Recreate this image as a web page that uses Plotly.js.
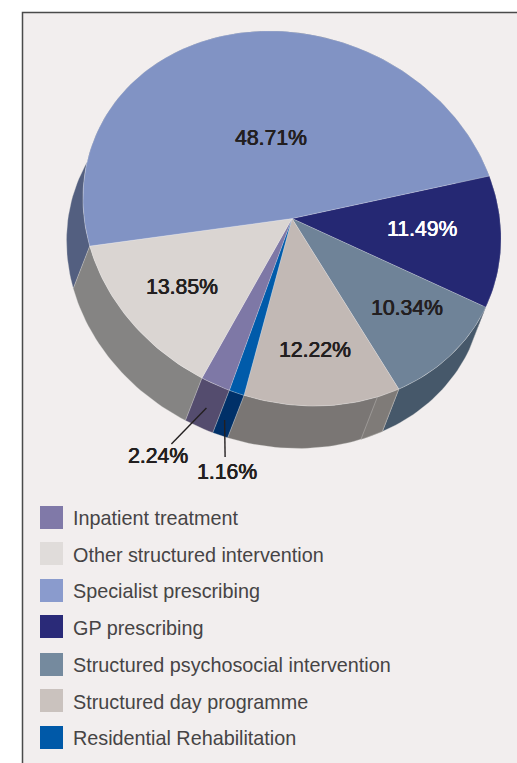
<!DOCTYPE html>
<html><head><meta charset="utf-8">
<script src="https://cdn.plot.ly/plotly-3.0.1.min.js"></script>
<style>html,body{margin:0;padding:0;background:#fff;overflow:hidden}#c{width:517px;height:763px}</style>
</head><body><div id="c"></div>
<script>
// ---- data, in clockwise drawing order, starting at the GP slice ----
const sliceNames = ['GP prescribing','Structured psychosocial intervention','Structured day programme','Residential Rehabilitation','Inpatient treatment','Other structured intervention','Specialist prescribing'];
const sliceValues = [11.49,10.34,12.22,1.16,2.24,13.85,48.71];
const sliceLabels = ['11.49%','10.34%','12.22%','1.16%','2.24%','13.85%','48.71%'];
const topColors = ['#252873','#6F8398','#C2B9B5','#005BAA','#7E78A6','#DAD5D2','#8193C4'];
const sideColors = ['#1B1D55','#46586A','#7A7674','#003068','#544C6E','#858483','#535F80'];
const labelColors = ['#FFFFFF','#231F20','#231F20','#231F20','#231F20','#231F20','#231F20'];
// ---- legend, in printed order ----
const legendNames = ['Inpatient treatment','Other structured intervention','Specialist prescribing','GP prescribing','Structured psychosocial intervention','Structured day programme','Residential Rehabilitation'];
const legendColors = ['#8079A8','#E0DCDA','#8A9BCD','#2A2A78','#758A9E','#CAC2BE','#0059A8'];

// ---- geometry and layout constants ----
const cx=292, cy=218.5, ax=209, bx=20.2, by=186.4, startDeg=-19.3, ex=-16.5, ey=42.5;
const labelX=[422,407,315,227,158,182,271], labelY=[229,308,350,472,456,287,138];
const legendY=[517.5,553.5,590.5,626.5,664.5,700.5,737.5];
const legendTextY=[518.5,555,591.5,628.5,665.5,702,738.5];
const leaderDepth={3:0.64,4:0.55}, leaderOut={3:[0.5,37],4:[-35,36]};
const seamShare=0.15, seamColor='#7F7B78';

const pt=d=>{const r=d*Math.PI/180;return [cx+ax*Math.cos(r),cy+bx*Math.cos(r)+by*Math.sin(r)];};
const arc=(a,b)=>{const n=Math.max(2,Math.ceil((b-a)/1.5)),o=[];for(let i=0;i<=n;i++)o.push(pt(a+(b-a)*i/n));return o;};
const poly=(p,fill,line)=>({type:'scatter',mode:'lines',x:p.map(q=>q[0]),y:p.map(q=>q[1]),fill:'toself',fillcolor:fill,
  line:{color:line||fill,width:line?0.7:0.4},hoverinfo:'skip',showlegend:false});
const side=(a,b,c,line)=>{const A=arc(a,b);return poly(A.concat(A.slice().reverse().map(q=>[q[0]+ex,q[1]+ey])).concat([A[0]]),c,line);};

const total=sliceValues.reduce((s,v)=>s+v,0);
let acc=startDeg; const spans=sliceValues.map(v=>{const a=acc;acc+=v/total*360;return [a,acc];});

const sideOrder=[6,0,1,5,2,4,3];
const traces=[];
sideOrder.forEach(i=>traces.push(side(spans[i][0],spans[i][1],sideColors[i],'rgba(215,212,210,0.45)')));
{const [a,b]=spans[2];const s=a+(b-a)*seamShare;traces.push(side(a,s,seamColor,'rgba(200,198,196,0.6)'));}
spans.forEach((s,i)=>{const A=arc(s[0],s[1]);traces.push(poly([[cx,cy]].concat(A,[[cx,cy]]),topColors[i],'rgba(255,255,255,0.3)'));});
[3,4].forEach(i=>{const p=pt((spans[i][0]+spans[i][1])/2),d=leaderDepth[i],o=leaderOut[i];
  const s=[p[0]+ex*d-(i===3?1.5:0),p[1]+ey*d];
  traces.push({type:'scatter',mode:'lines',x:[s[0],s[0]+o[0]],y:[s[1],s[1]+o[1]],line:{color:'#231F20',width:1.4},hoverinfo:'skip',showlegend:false});});
traces.push({type:'scatter',mode:'markers',x:legendNames.map(()=>51.5),y:legendY,marker:{symbol:'square',size:23,color:legendColors,line:{width:0}},hoverinfo:'skip',showlegend:false});

const annotations=[];
sliceLabels.forEach((t,i)=>annotations.push({x:labelX[i],y:labelY[i]-1,xref:'x',yref:'y',text:t,showarrow:false,xanchor:'center',yanchor:'middle',
  font:{family:'"Liberation Sans",Arial,sans-serif',size:21.2,color:labelColors[i],shadow:'0.4px 0 0 '+labelColors[i]+', -0.2px 0 0 '+labelColors[i]}}));
legendNames.forEach((t,i)=>annotations.push({x:71,y:legendTextY[i]-0.5,xref:'x',yref:'y',text:t,showarrow:false,xanchor:'left',yanchor:'middle',
  font:{family:'"Liberation Sans",Arial,sans-serif',size:19.8,color:'#464445'}}));

Plotly.newPlot('c',traces,{width:517,height:763,margin:{l:0,r:0,t:0,b:0},paper_bgcolor:'#FFFFFF',plot_bgcolor:'#FFFFFF',showlegend:false,
  xaxis:{range:[0,517],visible:false,fixedrange:true},yaxis:{range:[763,0],visible:false,fixedrange:true},
  shapes:[{type:'rect',xref:'x',yref:'y',x0:22.5,y0:12.5,x1:540,y1:790,fillcolor:'#F2EEEE',line:{color:'#4A4A4A',width:1.5},layer:'below'}],
  annotations},{displayModeBar:false,staticPlot:true});
</script></body></html>
